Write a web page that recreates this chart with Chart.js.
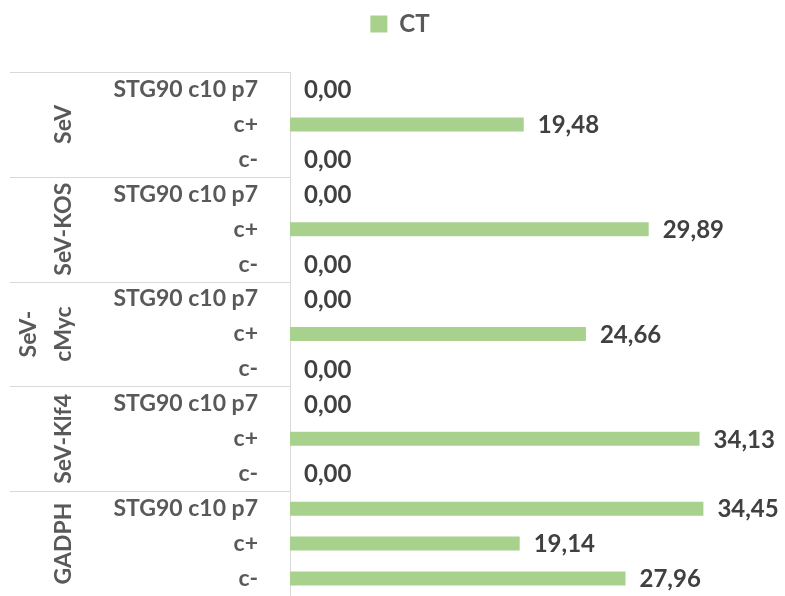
<!DOCTYPE html>
<html>
<head>
<meta charset="utf-8">
<script src="https://cdn.jsdelivr.net/npm/chart.js@4.4.0/dist/chart.umd.min.js"></script>
<style>
  html, body { margin: 0; padding: 0; background: #fff; overflow: hidden; }
  canvas { display: block; }
</style>
</head>
<body>
<canvas id="ctChart" width="785" height="596"></canvas>
<script>
// datos
const grupos = [['SeV'], ['SeV-KOS'], ['SeV-', 'cMyc'], ['SeV-Klf4'], ['GADPH']];
const muestras = ['STG90 c10 p7', 'c+', 'c-'];
const valoresCT = [0, 19.48, 0, 0, 29.89, 0, 0, 24.66, 0, 0, 34.13, 0, 34.45, 19.14, 27.96];
const etiquetas = [];
grupos.forEach(() => muestras.forEach(m => etiquetas.push(m)));

const FUENTE = 'Lato, "Open Sans", sans-serif';
const colorTexto = '#595959';

// etiquetas de valor al final de cada barra
const valoresPlugin = {
    id: 'valores',
    afterDatasetsDraw(chart) {
        const ctx = chart.ctx;
        const meta = chart.getDatasetMeta(0);
        ctx.save();
        ctx.font = 'bold 24px ' + FUENTE;
        ctx.fillStyle = '#404040';
        ctx.textBaseline = 'middle';
        meta.data.forEach((bar, i) => {
            const txt = valoresCT[i].toFixed(2).replace('.', ',');
            ctx.fillText(txt, bar.x + 14, bar.y + 1);
        });
        ctx.restore();
    }
};

// grupos a la izquierda con sus separadores
const gruposPlugin = {
    id: 'grupos',
    afterDraw(chart) {
        const ctx = chart.ctx;
        const y = chart.scales.y;
        const left = 10, right = chart.chartArea.left;
        ctx.save();
        ctx.strokeStyle = '#d9d9d9';
        ctx.lineWidth = 1;
        const paso = (y.getPixelForValue(1) - y.getPixelForValue(0));
        grupos.forEach((g, gi) => {
            const top = y.getPixelForValue(gi * 3) - paso / 2;
            ctx.beginPath();
            ctx.moveTo(left, Math.round(top) + 0.5);
            ctx.lineTo(right, Math.round(top) + 0.5);
            ctx.stroke();
            const centro = top + paso * 1.5;
            ctx.save();
            ctx.translate(64, centro);
            ctx.rotate(-Math.PI / 2);
            ctx.font = 'bold 23px ' + FUENTE;
            ctx.fillStyle = colorTexto;
            ctx.textAlign = 'center';
            ctx.textBaseline = 'middle';
            for (let k = 0; k < g.length; k++) {
                const dy = (k - (g.length - 1)) * 35;
                ctx.fillText(g[k], 0, dy);
            }
            ctx.restore();
        });
        ctx.restore();
    }
};

new Chart(document.getElementById('ctChart'), {
    type: 'bar',
    data: {
        labels: etiquetas,
        datasets: [{
            label: 'CT',
            data: valoresCT,
            backgroundColor: '#a9d18e',
            borderWidth: 0,
            barPercentage: 0.8,
            categoryPercentage: 0.5
        }]
    },
    options: {
        indexAxis: 'y',
        responsive: false,
        animation: false,
        devicePixelRatio: 1,
        layout: { padding: { left: 30, right: 15, top: 4, bottom: 0 } },
        plugins: {
            legend: {
                position: 'top',
                labels: {
                    font: { family: FUENTE, size: 24, weight: 'bold' },
                    color: colorTexto,
                    boxWidth: 17,
                    boxHeight: 17,
                    padding: 8
                }
            },
            tooltip: { enabled: false }
        },
        scales: {
            x: {
                position: 'top',
                min: 0,
                max: 40,
                grid: { display: false },
                border: { display: false },
                ticks: { display: false },
                afterFit: s => { s.height = 26; s.paddingLeft = 0; s.paddingRight = 0; }
            },
            y: {
                grid: { display: false },
                border: { display: true, color: '#d9d9d9', width: 1 },
                ticks: {
                    color: colorTexto,
                    font: { family: FUENTE, size: 23, weight: 'bold' },
                    padding: 24,
                    autoSkip: false
                },
                afterFit: s => { s.width = 260; s.paddingTop = 0; s.paddingBottom = 0; }
            }
        }
    },
    plugins: [valoresPlugin, gruposPlugin]
});
</script>
</body>
</html>
